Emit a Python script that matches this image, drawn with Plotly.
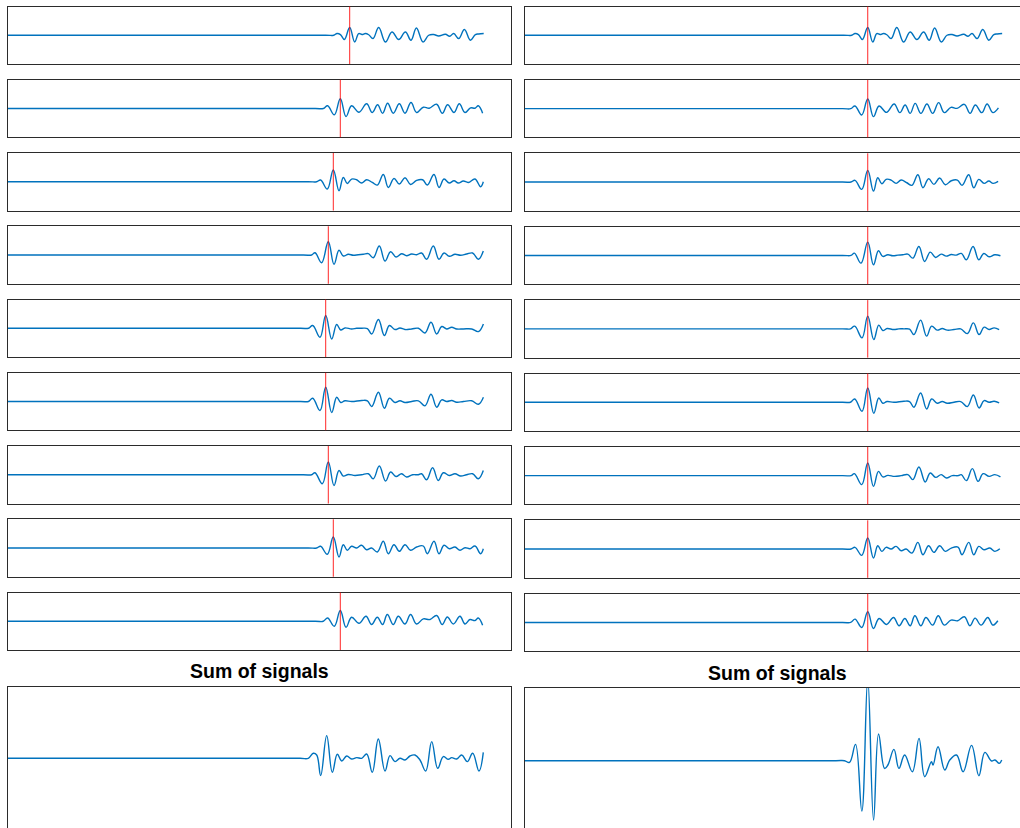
import plotly.graph_objects as go

W, H = 1020, 828
T_END = 475.3          # length of every recorded trace (samples)

# arrival time of the direct pulse on each of the nine receivers (samples)
arrival = [341.7, 332.3, 325.3, 320.3, 317.7, 317.7, 320.3, 325.3, 332.3]

# receiver traces: sample times relative to the arrival, and amplitudes
# (the first entry of each list is the quiet level just before the wave front)
off1 = [-24, -16, -12.7, -9.3, -5.3, 0, 5, 9, 12.3, 15.7, 19, 23.3, 29, 35.7, 42.3, 49, 55.7, 61.3,
        66.7, 73.3, 79, 84, 89, 95.7, 100, 104, 109, 114.7, 120.7, 125.7, 129, 134]
amp1 = [0, 0, 1.7, 0.7, -4.3, 7.7, -6.7, 1.7, 0.7, 1.7, 0.5, -3.3, 7.7, -6.7, 3.3, -4.3, 3.3, -5,
        7.3, -6.7, 0, 0.7, -0.7, 1, -1, 1.7, -3.3, 5.7, -5, 0.7, 1.3, 1.7]

off2 = [-25, -17, -12.7, -6, 0, 5.7, 11.3, 18.7, 26.3, 32, 37.3, 42.3, 47.3, 53, 59, 64.7, 70.7, 76.3,
        83, 89, 96.3, 102, 107.3, 113.7, 119, 124.7, 130.3, 134.7, 138, 142.3]
amp2 = [0, 0, 2.7, -6.3, 9.7, -8, 2.7, -3.7, 4.7, -4, 3.7, -4.7, 5.3, -4.7, 4.7, -4.7, 6, -4,
        1.3, 0.3, 4.3, -4.7, 3.7, -4, 4.7, -4, 0.7, 0.3, 2.7, -4.7]

off3 = [-25, -16.7, -12.7, -6, 0, 5.7, 10, 14, 18.3, 23.3, 28.3, 33.3, 39, 44, 50, 55, 60.7, 66, 71.7,
        77.3, 83.3, 89.3, 94, 100.7, 105.7, 110.7, 116, 120.7, 125, 130, 135, 141.7, 147.3, 150]
amp3 = [0, 0, 1.7, -7.3, 11.7, -9, 4.3, -1.7, 2.7, 2, -1.3, 2, -0.7, -3.3, 7.3, -5.7, 3.3, -2.3, 4,
        -2.7, 1.3, 2, -3.3, 7.3, -5.7, 2.7, -1.3, 1, -1.3, 0.7, -0.7, 2.7, -5, 0]

off4 = [-25, -16.7, -13.3, -6.7, 0, 5.7, 10.7, 15, 20, 25, 30, 35, 40, 45, 51, 56.7, 62.3, 67.7, 73.3,
        78.3, 83.3, 88.3, 93.3, 98.3, 105, 110.7, 115.7, 121, 126.7, 132.3, 138.3, 144.3, 150, 155]
amp4 = [0, 0, 2.3, -7.7, 13.3, -9.3, 4.7, -1, 0.7, -0.3, 0.3, 0.7, 1.3, -2.7, 9, -6, 3.3, -2, 1.3,
        -0.7, 1, 0.3, 2, -4.3, 9, -4.3, 2, -1.3, 0.7, -0.3, 1, 2, -4.3, 4]

off5 = [-25, -17.3, -13, -5.7, 0, 6, 11, 15, 19.3, 26, 31, 36, 41.7, 46, 52.7, 58.7, 63.7, 69.3, 74.3,
        79.3, 86, 92.7, 99.3, 105.3, 111, 116, 121, 126, 131, 137.7, 146, 152.7, 157.7]
amp5 = [0, 0, 2.7, -9, 12.7, -10.7, 3.7, -1.7, 0.3, -0.7, 0, 0, -0.3, -5.7, 8.7, -7.3, 2.7, -1.3, 0.3,
        -1.3, -0.7, 0, -4.7, 6, -5.7, 1.7, -0.7, 1, -0.7, -0.7, -0.7, -3.3, 4.3]

off6 = [-25, -17.3, -13, -5.7, 0, 6, 11, 15, 19.3, 26, 36, 41.7, 46, 52.7, 58.7, 63.7, 69.3, 74.3,
        79.3, 86, 92.7, 99.3, 105.3, 111, 116, 121, 126, 131, 137.7, 146, 152.7, 157.7]
amp6 = [0, 0, 3.3, -9, 14.3, -11, 4.3, -1, 0.7, 0, 1, 0.7, -5, 9.3, -6.7, 3.3, -1, 0.7,
        -1, 0, 0.7, -4.3, 7.3, -5.7, 1.7, 0, 1, -0.7, 0, 0.7, -2.7, 4.3]

off7 = [-25, -16.7, -13.3, -6, 0, 5.7, 10.7, 15, 20, 26.7, 33.3, 40, 45, 51, 57.3, 62.3, 67.7, 73.3,
        78.3, 84.3, 90, 93.3, 98.3, 104.3, 110, 115, 121, 126.7, 132.3, 138.3, 144.3, 150, 155]
amp7 = [0, 0, 2, -9, 12.7, -10.7, 4.3, -1.3, 0.3, -0.7, 0, 1, -4, 8.7, -6.3, 2.7, -1.7, 1,
        -2.3, 0, 0, 1, -5, 7, -5.7, 2, -0.7, 1, -1.3, 0, 1, -4, 4.3]

off8 = [-25, -16.7, -12.7, -6, 0, 5.7, 10, 14, 18.3, 23.3, 28.3, 33.3, 38.3, 44, 50, 55, 60.7, 66,
        71.7, 77.3, 83.3, 90, 94, 100.7, 105.7, 110.7, 116, 121.7, 126.7, 131.7, 136.7, 141.7,
        147.3, 150]
amp8 = [0, 0, 1.7, -6.3, 11, -9, 3.3, -2.3, 1.7, 0, 2.7, -1.7, 0, -4, 6.7, -5.7, 3.3, -3.3,
        3.3, -2.3, 1, 2, -5.7, 6.7, -5.7, 2.7, -0.7, 1, -2.3, 0.3, -0.7, 2,
        -5.7, -0.7]

off9 = [-25, -17, -12.7, -6, 0, 5.7, 11.3, 18.7, 25.7, 31.3, 37, 42.3, 47, 53, 58, 64.7, 70.3, 76.3,
        83, 89.7, 96.3, 102, 107, 113, 119.7, 124.7, 129.7, 134.7, 138, 142.3]
amp9 = [0, 0, 3.3, -5, 10.7, -6, 4, -2, 5, -3.3, 4, -3.3, 6.7, -3.3, 5, -2.7, 6.7, -2.7,
        2.3, 1.7, 5.7, -3.3, 4.3, -2.7, 5, -2.7, 1.7, 0.7, 3.3, -4]

# stacked traces, as recorded (left) and after delay compensation (right)
sum_raw_t = [0, 292, 300.3, 305.3, 308.7, 312.7, 318.7, 324.3, 329.3, 333.7, 338.7, 343.7, 348.7,
             353.7, 358.7, 364.3, 370.3, 377, 382, 387, 392, 397, 402, 407, 412, 417.7, 423.7,
             429.7, 435.3, 440.3, 443.7, 448.7, 453.7, 459.3, 464.7, 471, 475.3]
sum_raw_a = [0, 0, 0, 5, 3.3, -17.3, 22.7, -14, 4, -2.7, 2.3, -0.7, 0.7,
             0, 4.3, -14, 19.3, -12.7, 2.7, -3.3, 0, -1.7, 2.3, 3.3, -1.7, -12.7, 16.7,
             -10, 1.7, -1, 0.7, -0.7, 3.3, -3.3, 5, -12.7, 6]

sum_aligned_t = [0, 310, 318.5, 323.5, 329.5, 335.8, 341.7, 347.5, 352.5, 358.5, 361.8, 367.8, 372.8,
                 378.5, 386.2, 392.8, 398.5, 405.2, 406.8, 411.8, 418.5, 423.5, 430.2, 436.8,
                 445.2, 452.5, 458.5, 465.2, 468.5, 472.8, 475.3]
sum_aligned_a = [0, 0, 0, -1.7, 16.3, -50.3, 82, -59.3, 26.7, -7.7, -4.3, 11.3, -7.7,
                 5.7, -11, 22.3, -16, -1, -4.3, 14, -9.3, 0.7, 5.7, -11,
                 15.3, -15, 8.3, -0.3, 0.7, -2.7, 0.7]

offsets = [off1, off2, off3, off4, off5, off6, off7, off8, off9]
amps = [amp1, amp2, amp3, amp4, amp5, amp6, amp7, amp8, amp9]

BLUE = "#0072bd"
FRAME = "#2b2b2b"
aligned = max(arrival)

fig = go.Figure()
layout = {}
shapes = []


def ax_names(k):
    return ("xaxis" if k == 1 else f"xaxis{k}", "yaxis" if k == 1 else f"yaxis{k}",
            "x" if k == 1 else f"x{k}", "y" if k == 1 else f"y{k}")


def panel(k, x0px, x1px, top, bottom, xrange, yrange, right_frame=True, open_bottom=False):
    xa, ya, _, _ = ax_names(k)
    common = dict(showgrid=False, zeroline=False, showticklabels=False, ticks="",
                  showline=True, linecolor=FRAME, linewidth=1.1, fixedrange=True)
    bottom = min(bottom, H)
    layout[xa] = dict(common, domain=[x0px / W, x1px / W], range=xrange,
                      anchor="y" if k == 1 else f"y{k}",
                      mirror=not open_bottom, side="top" if open_bottom else "bottom")
    layout[ya] = dict(common, domain=[1 - bottom / H, 1 - top / H], range=yrange,
                      anchor="x" if k == 1 else f"x{k}", mirror=right_frame)


def trace(k, t, a):
    _, _, xr, yr = ax_names(k)
    fig.add_trace(go.Scatter(x=t, y=a, mode="lines", xaxis=xr, yaxis=yr,
                             line=dict(color=BLUE, width=1.4, shape="spline", smoothing=1.15),
                             hoverinfo="skip", showlegend=False))


def red_marker(k, t):
    _, _, xr, yr = ax_names(k)
    shapes.append(dict(type="line", xref=xr, yref=f"{yr} domain", x0=t, x1=t, y0=0, y1=1,
                       line=dict(color="rgba(255,0,0,0.85)", width=1)))


LEFT = (8, 511)
RIGHT = (525, 1020)
left_range = [0, 503]
right_range = [0, 493.5]
half = 28.75

for i in range(9):
    # as recorded
    k = i + 1
    top = 6.5 + 73.25 * i
    panel(k, *LEFT, top, top + 57.5, left_range, [-half, half])
    t = [0] + [arrival[i] + o for o in offsets[i]]
    a = [0] + list(amps[i])
    trace(k, t, a)
    red_marker(k, arrival[i])

    # delay-compensated: every pulse moved to the latest arrival
    k = i + 11
    top = 6.5 + 73.4 * i
    panel(k, *RIGHT, top, top + 57.5, right_range, [-half, half], right_frame=False)
    pts = [(aligned + o, v) for o, v in zip(offsets[i], amps[i]) if aligned + o <= T_END + 0.5]
    t = [0] + [p[0] for p in pts]
    a = [0] + [p[1] for p in pts]
    trace(k, t, a)
    red_marker(k, aligned)

# stacked panels
panel(10, *LEFT, 687, H, left_range, [-(H - 758.3), 758.3 - 687], open_bottom=True)
trace(10, sum_raw_t, sum_raw_a)
panel(20, *RIGHT, 688, H, right_range, [-(H - 760.7), 760.7 - 688], right_frame=False,
      open_bottom=True)
trace(20, sum_aligned_t, sum_aligned_a)

title_font = dict(family="Liberation Sans, Arial, sans-serif", size=19.5, color="black")
annotations = [
    dict(text="<b>Sum of signals</b>", x=259 / W, y=1 - 671 / H, xref="paper", yref="paper",
         xanchor="center", yanchor="middle", showarrow=False, font=title_font),
    dict(text="<b>Sum of signals</b>", x=777 / W, y=1 - 673 / H, xref="paper", yref="paper",
         xanchor="center", yanchor="middle", showarrow=False, font=title_font),
]

fig.update_layout(width=W, height=H, margin=dict(l=0, r=0, t=0, b=0),
                  paper_bgcolor="white", plot_bgcolor="white",
                  shapes=shapes, annotations=annotations, **layout)
fig.write_html("out.html")
